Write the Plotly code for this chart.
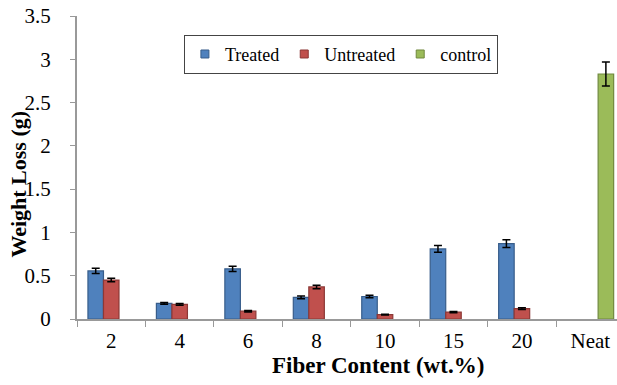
import plotly.graph_objects as go

categories = ["2", "4", "6", "8", "10", "15", "20", "Neat"]
treated = [0.555, 0.18, 0.58, 0.25, 0.26, 0.81, 0.87, None]
treated_err = [0.03, 0.01, 0.03, 0.015, 0.015, 0.04, 0.045, None]
untreated = [0.45, 0.17, 0.09, 0.37, 0.05, 0.08, 0.12, None]
untreated_err = [0.02, 0.01, 0.008, 0.02, 0.005, 0.008, 0.01, None]
control = [None, None, None, None, None, None, None, 2.83]
control_err = [None, None, None, None, None, None, None, 0.14]

series_names = ["Treated", "Untreated", "control"]
fill_colors = ["#4F81BD", "#C0504D", "#9BBB59"]
edge_colors = ["#385D8A", "#8C3836", "#71893F"]

FF = "Liberation Serif"

def err(vals):
    return dict(type="data", array=vals, visible=True, color="black", thickness=1.5, width=4)

fig = go.Figure()
for name, vals, errs, fc, ec in zip(series_names, [treated, untreated, control],
                                    [treated_err, untreated_err, control_err],
                                    fill_colors, edge_colors):
    fig.add_trace(go.Bar(name=name, x=categories, y=vals, error_y=err(errs), showlegend=False,
                         marker=dict(color=fc, line=dict(color=ec, width=1.2))))
# legend entries with small square swatches
for name, fc, ec in zip(series_names, fill_colors, edge_colors):
    fig.add_trace(go.Scatter(name=name, x=[None], y=[None], mode="markers",
                             marker=dict(symbol="square", size=8, color=fc,
                                         line=dict(color=ec, width=1))))

fig.update_layout(
    width=617, height=385,
    margin=dict(l=77, r=0, t=16, b=66),
    plot_bgcolor="white", paper_bgcolor="white",
    barmode="group", bargap=0.32, bargroupgap=0,
    font=dict(family=FF, size=21, color="black"),
    legend=dict(orientation="h", x=0.198, y=0.938, xanchor="left", yanchor="top",
                bordercolor="#444444", borderwidth=1,
                font=dict(family=FF, size=18, color="black"),
                itemwidth=30, traceorder="normal"),
    xaxis=dict(
        range=[-0.5, 7.389],
        showline=True, linecolor="#999999", linewidth=2,
        ticks="outside", tickcolor="#999999", ticklen=6, tickson="boundaries",
        showgrid=False, tickfont=dict(family=FF, size=21, color="black"), ticklabelstandoff=2,
        ticklabeloverflow="allow",
    ),
    yaxis=dict(
        range=[0, 3.5], dtick=0.5,
        showline=True, linecolor="#999999", linewidth=2,
        ticks="outside", tickcolor="#999999", ticklen=5,
        showgrid=False, zeroline=False, tickfont=dict(family=FF, size=21, color="black"),
        ticklabelstandoff=15, ticklabeloverflow="allow",
    ),
    annotations=[
        dict(text="<b>Weight Loss (g)</b>", xref="paper", yref="paper", x=-0.11, y=0.4455,
             textangle=-90, showarrow=False, font=dict(family=FF, size=22, color="black"),
             xanchor="center", yanchor="middle"),
        dict(text="<b>Fiber Content (wt.%)</b>", xref="paper", yref="paper", x=0.557, y=-0.152,
             showarrow=False, font=dict(family=FF, size=23, color="black"),
             xanchor="center", yanchor="middle"),
    ],
)

# remove the default 8px page margin so the figure fills the window exactly
fig.write_html("out.html", post_script="document.body.style.margin='0';",
               config={"displayModeBar": False})
